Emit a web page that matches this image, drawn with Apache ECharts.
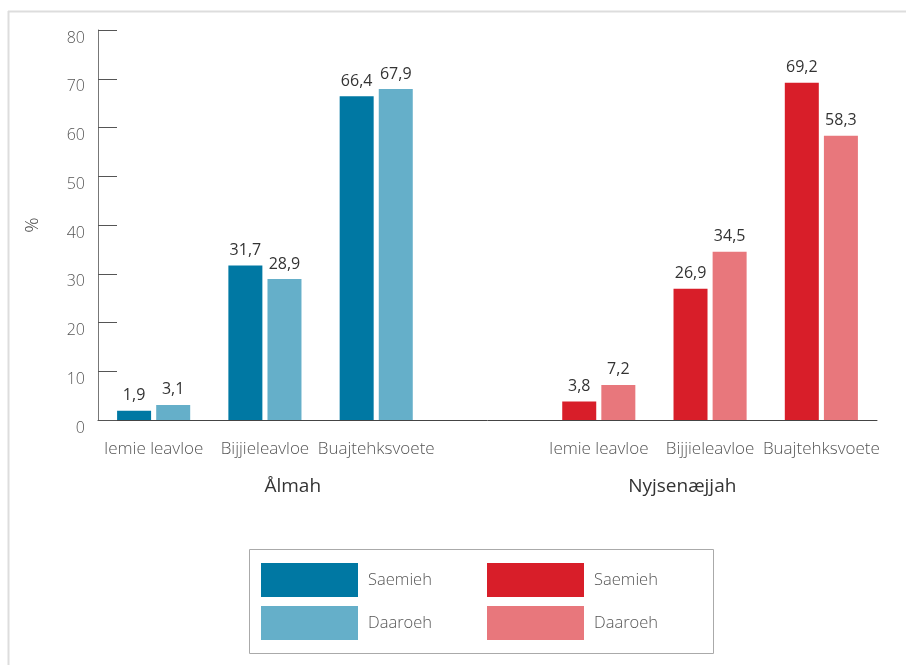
<!DOCTYPE html>
<html><head><meta charset="utf-8">
<script src="https://cdn.jsdelivr.net/npm/echarts@6/dist/echarts.min.js"></script>
<style>html,body{margin:0;padding:0;background:#fff}#c{width:906px;height:665px}</style>
</head><body><div id="c"></div>
<script>
const categories = ['Iemie leavloe','Bijjieleavloe','Buajtehksvoete','','Iemie leavloe','Bijjieleavloe','Buajtehksvoete'];
const groups = ['Ålmah','Nyjsenæjjah'];
const almahSaemieh = [1.9, 31.7, 66.4, null, null, null, null];
const almahDaaroeh = [3.1, 28.9, 67.9, null, null, null, null];
const nyjSaemieh = [null, null, null, null, 3.8, 26.9, 69.2];
const nyjDaaroeh = [null, null, null, null, 7.2, 34.5, 58.3];
const yTicks = [0,10,20,30,40,50,60,70,80];

const FONT = '"Open Sans", "Noto Sans", sans-serif';
const chart = echarts.init(document.getElementById('c'), null, {renderer:'canvas'});
const lbl = {show:true, position:'top', distance:7, color:'#333', fontSize:16, fontFamily:FONT,
  formatter: p => p.value == null ? '' : p.value.toFixed(1).replace('.', ',')};
function mk(name, data, color, stack){
  return {name, type:'bar', data: data.map(v => v == null ? '-' : v), stack, barWidth:34, barGap:'15%',
    itemStyle:{color}, label:lbl, xAxisIndex:0, yAxisIndex:0};
}
const legText = {color:'#555', fontSize:16.5, fontWeight:300, fontFamily:FONT, padding:[5,0,0,5]};
chart.setOption({
  animation:false,
  textStyle:{fontFamily:FONT},
  grid:{left:98, right:29, top:30, bottom:245, containLabel:false},
  xAxis:[{
    type:'category', data:categories, position:'bottom',
    axisLine:{lineStyle:{color:'#444', width:1}}, axisTick:{show:false},
    axisLabel:{interval:0, color:'#555', fontSize:17, fontWeight:300, fontFamily:FONT, margin:21}
  },{
    type:'category', data:groups, position:'bottom', gridIndex:0,
    axisLine:{show:false}, axisTick:{show:false}, splitLine:{show:false},
    axisLabel:{interval:0, color:'#333', fontSize:19, fontFamily:FONT, margin:57}
  }],
  yAxis:{
    type:'value', min:0, max:80, interval:10,
    name:'%', nameLocation:'middle', nameRotate:90, nameGap:56,
    nameTextStyle:{color:'#444', fontSize:19, fontWeight:300, fontFamily:FONT},
    axisLine:{show:true, lineStyle:{color:'#777'}},
    axisTick:{show:true, inside:true, length:19, lineStyle:{color:'#555'}},
    splitLine:{show:false},
    axisLabel:{color:'#555', fontSize:16, fontWeight:300, fontFamily:FONT, margin:13, verticalAlign:'top',
      formatter: v => yTicks.includes(v) ? String(v) : ''}
  },
  legend:[{
    data:['Ålmah Saemieh','Ålmah Daaroeh'], orient:'vertical', left:261, top:563, padding:0,
    itemWidth:97, itemHeight:34, itemGap:9, icon:'rect', selectedMode:false,
    formatter: n => n.split(' ').pop(), textStyle:legText
  },{
    data:['Nyjsenæjjah Saemieh','Nyjsenæjjah Daaroeh'], orient:'vertical', left:487, top:563, padding:0,
    itemWidth:97, itemHeight:34, itemGap:9, icon:'rect', selectedMode:false,
    formatter: n => n.split(' ').pop(), textStyle:legText
  }],
  graphic:[
    {type:'line', shape:{x1:8, y1:11.5, x2:906, y2:11.5}, style:{stroke:'#ddd', lineWidth:2}, silent:true},
    {type:'line', shape:{x1:8.5, y1:11, x2:8.5, y2:665}, style:{stroke:'#ddd', lineWidth:2}, silent:true},
    {type:'rect', shape:{x:249.5, y:549.5, width:464, height:104}, style:{fill:null, stroke:'#aaa', lineWidth:1}, silent:true}
  ],
  series:[
    mk('Ålmah Saemieh', almahSaemieh, '#0078A3', 'a'),
    mk('Ålmah Daaroeh', almahDaaroeh, '#65AFC9', 'b'),
    mk('Nyjsenæjjah Saemieh', nyjSaemieh, '#D81E29', 'a'),
    mk('Nyjsenæjjah Daaroeh', nyjDaaroeh, '#E8777C', 'b')
  ]
});
</script></body></html>
